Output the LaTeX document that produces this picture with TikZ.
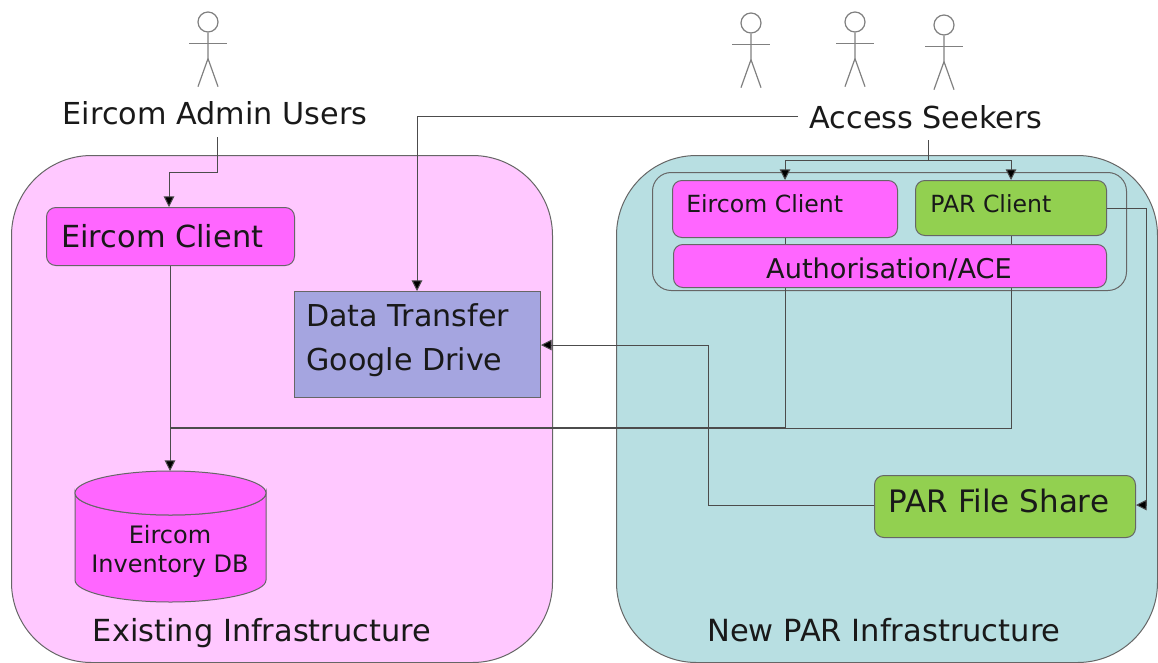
\documentclass[tikz,border=0pt]{standalone}
\usepackage{fontspec}
\setmainfont{DejaVu Sans}
\usetikzlibrary{arrows.meta,calc}
\definecolor{panelpink}{HTML}{FFC8FF}
\definecolor{panelteal}{HTML}{B8DFE2}
\definecolor{magentabox}{HTML}{FF66FF}
\definecolor{greenbox}{HTML}{92D050}
\definecolor{bluebox}{HTML}{A5A5E0}
\definecolor{edgegrey}{HTML}{666666}
\newcommand{\fs}[1]{\fontsize{#1}{#1}\selectfont}
\tikzset{
  x=0.75pt,y=-0.75pt,
  box/.style={draw=edgegrey,line width=0.75pt,inner sep=0pt,anchor=north west},
  panel/.style={box,rounded corners=60pt},
  client/.style={box,rounded corners=7pt},
  label/.style={inner sep=0pt,text=black!90},
  conn/.style={draw=black!70,line width=0.75pt},
  arr/.style={conn,-{Triangle[length=8pt,width=8pt,fill=black]}},
  actorline/.style={draw=black!50,line width=0.9pt},
}
\newcommand{\actor}[3]{% name, x, y of head centre
  \node[circle,draw=black!50,fill=white,line width=0.9pt,minimum size=15pt,inner sep=0pt] (#1) at (#2,#3) {};
  \draw[actorline] (#1.south) -- ++(0,26) coordinate (#1hip) -- ++(-10,28);
  \draw[actorline] (#1hip) -- ++(10,28);
  \draw[actorline] ($(#1.south)+(-19,11)$) -- ++(38,0);
}
\begin{document}
\begin{tikzpicture}
\useasboundingbox (0,0) rectangle (1158,662);
% panels
\begin{scope}
\clip (0,0) rectangle (1158,662);
\node[panel,fill=panelpink,minimum width=541*0.75pt,minimum height=507*0.75pt] (leftpanel) at (11,155) {};
\node[panel,fill=panelteal,minimum width=541*0.75pt,minimum height=507*0.75pt] (rightpanel) at (616,155) {};
\end{scope}
\node[box,fill=panelteal,rounded corners=14pt,minimum width=474*0.75pt,minimum height=118*0.75pt] (group) at (652,172) {};

% actors
\actor{a1}{208}{22}
\actor{a2}{751}{23}
\actor{a3}{855}{22}
\actor{a4}{944}{25}

% top labels
\node[label,anchor=base] (adminusers) at (215,124) {\fs{22.7}Eircom Admin Users};
\node[label,anchor=base] (seekers) at (926,128) {\fs{22.7}Access Seekers};

% boxes' positions
\coordinate (adminout) at (217,137);
\coordinate (seekleft) at (798,116);
\coordinate (seekdown) at (928,140);
\coordinate (seekbranch) at (928,160);
\coordinate (bus) at (170,427);
\coordinate (busb) at (170,428);
\coordinate (dbtop) at (170,471);

% connectors beneath boxes
\draw[conn] (785,237) -- (785,427) -- (bus);
\draw[conn] (1011,235) -- (1011,428) -- (busb);
\draw[arr] (170,265) -- (dbtop);

% boxes
\node[client,fill=magentabox,minimum width=248*0.75pt,minimum height=58*0.75pt] (eclient) at (46,207) {};
\node[label,anchor=base west] (eclienttext) at (61,247) {\fs{22.8}Eircom Client};
\node[box,fill=bluebox,minimum width=246*0.75pt,minimum height=106*0.75pt] (transfer) at (294,291) {};
\node[label,anchor=base west] (transfer1) at (306,326) {\fs{22.6}Data Transfer};
\node[label,anchor=base west] (transfer2) at (306,370) {\fs{22.6}Google Drive};
\node[client,fill=magentabox,minimum width=225*0.75pt,minimum height=57*0.75pt] (rclient) at (672,180) {};
\node[label,anchor=base west] (rclienttext) at (686,212) {\fs{17.7}Eircom Client};
\node[client,fill=greenbox,minimum width=191*0.75pt,minimum height=55*0.75pt] (parclient) at (915,180) {};
\node[label,anchor=base west] (parclienttext) at (930,212) {\fs{17.7}PAR Client};
\node[client,fill=magentabox,minimum width=433*0.75pt,minimum height=43*0.75pt] (auth) at (673,244) {};
\node[label,anchor=base] (authtext) at (889,278) {\fs{20.4}Authorisation/ACE};
\node[client,fill=greenbox,minimum width=261*0.75pt,minimum height=62*0.75pt] (fileshare) at (874,475) {};
\node[label,anchor=base] (filesharetext) at (999,512) {\fs{23.2}PAR File Share};

% database cylinder
\draw[draw=edgegrey,line width=0.75pt,fill=magentabox] (75,493) arc[start angle=180,end angle=360,x radius=95.5,y radius=-22] -- (266,580) arc[start angle=0,end angle=-180,x radius=95.5,y radius=-22] -- cycle;
\draw[draw=edgegrey,line width=0.75pt,fill=magentabox] (170.5,493) ellipse[x radius=95.5,y radius=22];
\node[label,anchor=base] (dbtext1) at (170,543) {\fs{18}Eircom};
\node[label,anchor=base] (dbtext2) at (170,572) {\fs{18}Inventory DB};

% panel captions
\node[label,anchor=base] (leftcap) at (262,641) {\fs{22.8}Existing Infrastructure};
\node[label,anchor=base] (rightcap) at (884,641) {\fs{22.9}New PAR Infrastructure};

% connectors
\draw[arr] (adminout) -- (217,172) -| (eclient.north -| 169,0);
\draw[arr] (seekleft) -| (transfer.north -| 417,0);
\draw[conn] (seekdown) -- (seekbranch);
\draw[arr] (seekbranch) -| (rclient.north -| 785,0);
\draw[arr] (seekbranch) -| (parclient.north -| 1011,0);
\draw[arr] (parclient.east |- 0,208) -- (1146,208) -- (1146,505) -- (fileshare.east |- 0,505);
\draw[arr] (fileshare.west |- 0,505) -- (708,505) -- (708,345) -- (transfer.east |- 0,345);
\end{tikzpicture}
\end{document}
